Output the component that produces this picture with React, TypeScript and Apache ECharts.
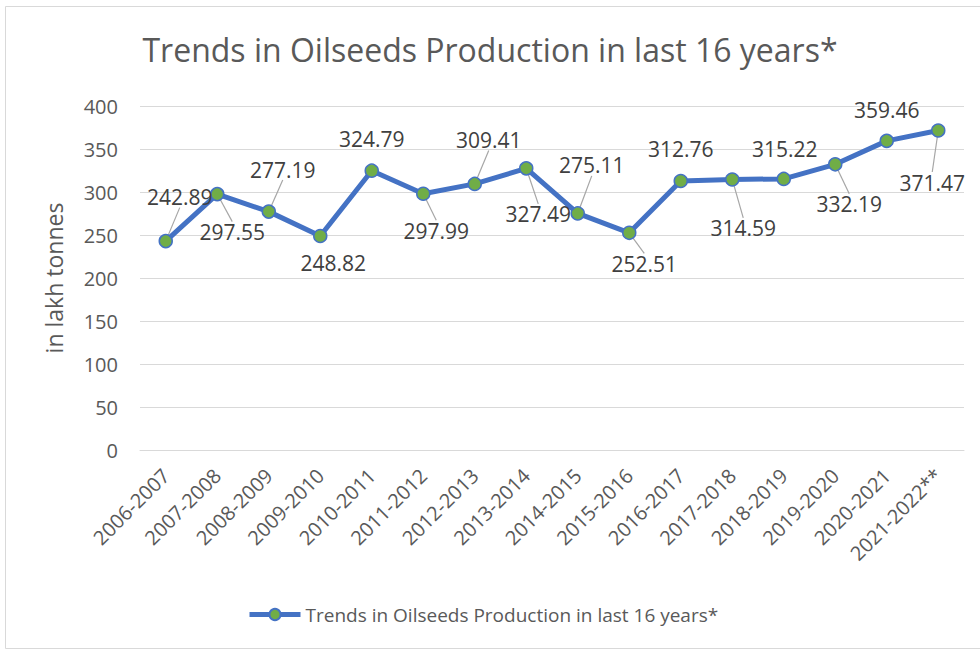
import React, { useEffect, useRef } from "react";
import * as echarts from "echarts";

const TITLE = "Trends in Oilseeds Production in last 16 years*";
const SERIES_NAME = "Trends in Oilseeds Production in last 16 years*";
const Y_NAME = "in lakh tonnes";
const categories = [
  "2006-2007", "2007-2008", "2008-2009", "2009-2010", "2010-2011", "2011-2012",
  "2012-2013", "2013-2014", "2014-2015", "2015-2016", "2016-2017", "2017-2018",
  "2018-2019", "2019-2020", "2020-2021", "2021-2022**",
];
const production = [
  242.89, 297.55, 277.19, 248.82, 324.79, 297.99, 309.41, 327.49,
  275.11, 252.51, 312.76, 314.59, 315.22, 332.19, 359.46, 371.47,
];
const yTicks = [0, 50, 100, 150, 200, 250, 300, 350, 400];

// label offsets (px) from each point, and whether a leader line is drawn
const labelOffsets: [number, number, boolean][] = [
  [14, -44, true], [15, 38, true], [14, -42, true], [13, 27, false],
  [0, -32, false], [13, 37, true], [14, -44, true], [12, 46, true],
  [14, -48, true], [15, 31, true], [0, -32, false], [11, 49, true],
  [1, -30, false], [14, 40, true], [0, -31, false], [-6, 52, true],
];

const FONT = "'Open Sans', 'Noto Sans', sans-serif";

export default function App() {
  const ref = useRef<HTMLDivElement>(null);
  useEffect(() => {
    if (!ref.current) return;
    const chart = echarts.init(ref.current, undefined, { renderer: "svg" });
    chart.setOption({
      animation: false,
      backgroundColor: "#ffffff",
      textStyle: { fontFamily: FONT },
      title: {
        text: TITLE,
        left: "center",
        top: 28,
        textStyle: { fontFamily: FONT, fontSize: 32, fontWeight: "normal", color: "#595959" },
      },
      graphic: [
        {
          type: "rect",
          shape: { x: 5.5, y: 6.5, width: 985, height: 642 },
          style: { fill: "none", stroke: "#d9d9d9", lineWidth: 1 },
          silent: true,
        },
      ],
      legend: {
        bottom: 24,
        left: 242,
        itemWidth: 51,
        itemHeight: 14,
        itemGap: 4,
        lineStyle: { width: 5, color: "#4472C4" },
        textStyle: { fontFamily: FONT, fontSize: 19, color: "#595959" },
        data: [SERIES_NAME],
      },
      grid: { left: 140, right: 16, top: 106, bottom: 203, containLabel: false },
      xAxis: {
        type: "category",
        data: categories,
        boundaryGap: true,
        axisLine: { show: true, lineStyle: { color: "#d9d9d9", width: 1 } },
        axisTick: { show: false },
        axisLabel: {
          interval: 0,
          rotate: 45,
          margin: 22,
          fontFamily: FONT,
          fontSize: 20,
          color: "#595959",
        },
      },
      yAxis: {
        type: "value",
        min: yTicks[0],
        max: yTicks[yTicks.length - 1],
        interval: 50,
        name: Y_NAME,
        nameLocation: "middle",
        nameGap: 75,
        nameRotate: 90,
        nameTextStyle: { fontFamily: FONT, fontSize: 23, color: "#595959" },
        axisLine: { show: false },
        axisTick: { show: false },
        splitLine: { lineStyle: { color: "#d9d9d9", width: 1 } },
        axisLabel: { margin: 22, fontFamily: FONT, fontSize: 20, color: "#595959" },
      },
      series: [
        {
          name: SERIES_NAME,
          type: "line",
          data: production.map((v, i) => ({
            value: v,
            labelLine: { show: labelOffsets[i][2] },
          })),
          symbol: "circle",
          symbolSize: 13,
          lineStyle: { color: "#4472C4", width: 5 },
          itemStyle: { color: "#70AD47", borderColor: "#4472C4", borderWidth: 1.5 },
          label: {
            show: true,
            position: "inside",
            fontFamily: FONT,
            fontSize: 21,
            color: "#404040",
            formatter: (p: any) => Number(p.value).toFixed(2),
          },
          labelLine: { show: true, lineStyle: { color: "#a6a6a6", width: 1.2 } },
          labelLayout: (p: any) => ({
            dx: labelOffsets[p.dataIndex][0],
            dy: labelOffsets[p.dataIndex][1],
          }),
          emphasis: { disabled: true },
        },
      ],
    });
    return () => chart.dispose();
  }, []);
  return (
    <div
      ref={ref}
      style={{ position: "fixed", left: 0, top: 0, width: 980, height: 653 }}
    />
  );
}
